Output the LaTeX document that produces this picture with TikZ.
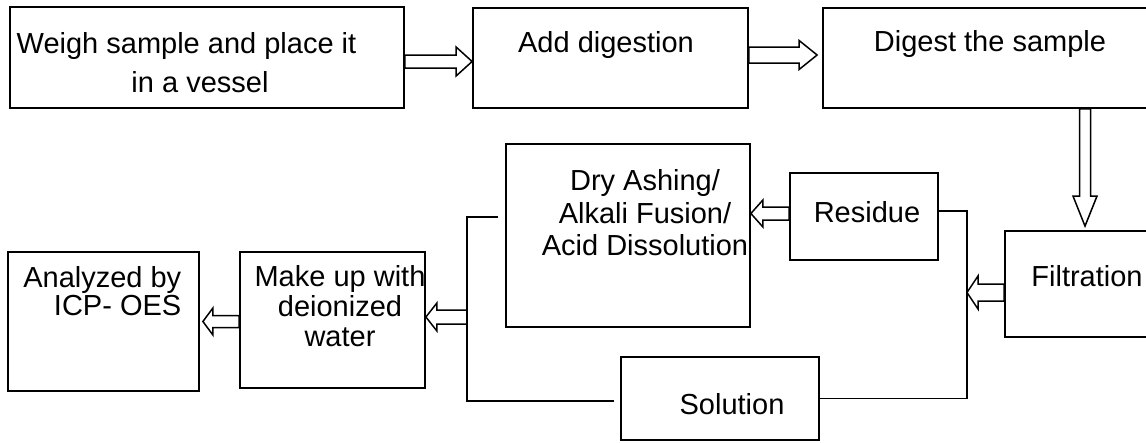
\documentclass[tikz,border=0pt]{standalone}
\usepackage{fontspec}
\setmainfont{Liberation Sans}
\usetikzlibrary{calc}

\tikzset{
  box/.style={draw,line width=1.8pt,inner sep=0pt},
  txt/.style={inner sep=0pt,align=center},
  link/.style={line width=1.8pt},
  blockarrow/.style args={#1/#2/#3}{line width=1.5pt,line join=miter,to path={
    let \p1=(\tikztostart), \p2=(\tikztotarget), \p3=($(\p2)!#3pt!(\p1)$) in
    ($(\p1)!#1pt!90:(\p2)$) -- ($(\p3)!#1pt!90:(\p2)$) -- ($(\p3)!#2pt!90:(\p2)$) -- (\p2)
    -- ($(\p3)!#2pt!-90:(\p2)$) -- ($(\p3)!#1pt!-90:(\p2)$) -- ($(\p1)!#1pt!-90:(\p2)$) -- cycle}}
}

\begin{document}
\begin{tikzpicture}[x=1pt,y=-1pt,font=\fontsize{29}{30}\selectfont]
\useasboundingbox (0,0) rectangle (1146,442);
% boxes
\node[box,minimum width=394pt,minimum height=101pt] (weigh) at (207,57.5) {};
\node[box,minimum width=275pt,minimum height=100pt] (add) at (610.5,58) {};
\node[box,minimum width=342pt,minimum height=100pt] (digest) at (994,58) {};
\node[box,minimum width=160pt,minimum height=106pt] (filtration) at (1085,284) {};
\node[box,minimum width=148pt,minimum height=87pt] (residue) at (864,216.5) {};
\node[box,minimum width=244pt,minimum height=183pt] (dry) at (628,235.5) {};
\node[box,minimum width=198pt,minimum height=83pt] (solution) at (720,398.5) {};
\node[box,minimum width=185pt,minimum height=136pt] (makeup) at (332.5,320) {};
\node[box,minimum width=191pt,minimum height=139pt] (analyzed) at (103.5,321.5) {};
\coordinate (rsplit) at (967,292.5);
\coordinate (lsplit) at (467,317);
% texts
\node[txt] (weightxt) at (186.5,63) {Weigh sample and place it\\[9pt]\hspace*{27pt}in a vessel};
\node[txt] (addtxt) at (606,45) {Add digestion};
\node[txt] (digesttxt) at (990,44) {Digest the sample};
\node[txt] (filtrationtxt) at (1087,276) {Filtration};
\node[txt] (residuetxt) at (867,212) {Residue};
\node[txt] (drytxt) at (645,213) {Dry Ashing/\\[2.5pt]Alkali Fusion/\\[2.5pt]Acid Dissolution};
\node[txt] (solutiontxt) at (732,404) {Solution};
\node[txt] (makeuptxt) at (340,306.5) {Make up with\\deionized\\water};
\node[txt,align=right,anchor=east] (analyzedtxt) at (181.5,291.5) {Analyzed by\\[-2pt]ICP- OES};
% connectors
\draw[link] ([yshift=5.5pt]residue.east) -| (rsplit) |- (solution.east);
\draw[link] ([xshift=-7pt,yshift=18.5pt]dry.west) -| (lsplit) |- ([xshift=-6pt,yshift=-2.5pt]solution.west);
\draw[blockarrow=6.5/14.5/16] ([yshift=-4pt]weigh.east) to ([yshift=-3.5pt]add.west);
\draw[blockarrow=8/14.5/18] ([yshift=3pt]add.east) to ([xshift=-5pt,yshift=3pt]digest.west);
\draw[blockarrow=5.5/12/30] (digest.south -| filtration.north) to ([yshift=4pt]filtration.north);
\draw[blockarrow=8.5/16.5/11] ([yshift=-8.5pt]filtration.west) to (rsplit);
\draw[blockarrow=6.5/13.5/12] ([yshift=3pt]residue.west) to ([yshift=22pt]dry.east);
\draw[blockarrow=7/14/11] (lsplit) to ([yshift=3pt]makeup.east);
\draw[blockarrow=6/13.5/10] ([yshift=-1.5pt]makeup.west) to ([xshift=3pt]analyzed.east);
\end{tikzpicture}
\end{document}
